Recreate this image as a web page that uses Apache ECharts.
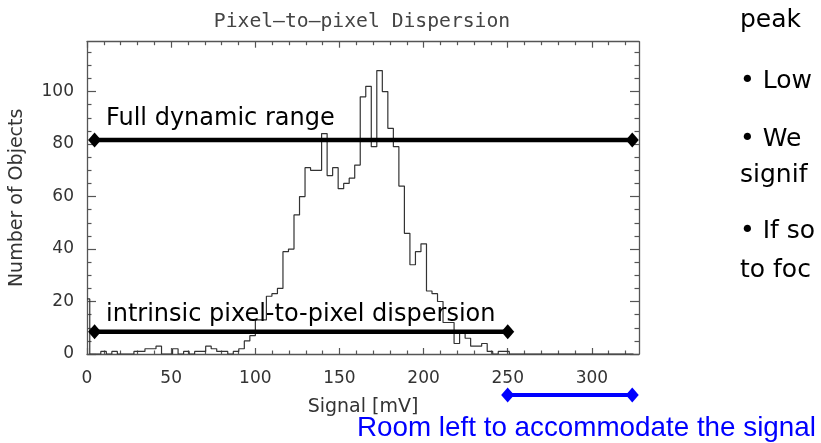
<!DOCTYPE html>
<html><head><meta charset="utf-8">
<script src="https://cdn.jsdelivr.net/npm/echarts@6/dist/echarts.min.js"></script>
<style>html,body{margin:0;padding:0;background:#fff}#c{width:821px;height:443px}</style>
</head><body><div id="c"></div>
<script>
// ---- data ----
const binWidth = 3.28; // mV per histogram bin (bin centres at i*binWidth)
const counts = [
  21,0,0,1,0,1,0,0,0,1,
  1,2,2,3,0,0,2,0,1,0,
  1,1,3,2,1,1,0,1,2,5,
  7,13,13,22,23,25,39,40,53,60,
  71,70,70,84,68,71,63,65,67,72,
  98,102,79,108,100,86,79,64,46,34,
  39,42,24,23,20,12,12,4,8,6,
  3,3,4,1,0,1,1,0,0,0,
  0,0,0,0,0,0,0,0,0,0,
  0,0,0,0,0,0,0,0,0,0
];
const xMajorTicks = [0,50,100,150,200,250,300];
const xMinorTicks = [10,20,30,40,60,70,80,90,110,120,130,140,160,170,180,190,210,220,230,240,260,270,280,290,310,320];
const yMajorTicks = [0,20,40,60,80,100];
const yMinorTicks = [5,10,15,25,30,35,45,50,55,65,70,75,85,90,95,105,110,115];
const fullRangeX = [4.5, 324];
const fullRangeY = 81.5;
const intrinsicX = [4.5, 250];
const intrinsicY = 8.5;
const roomX = [250, 324];

const xMax = 328, yMax = 119;
const AX = '#555';
const TXT = '#333';

function xAx(pos, ticks, len, line, label, extra) {
  return Object.assign({
    type:'value', gridIndex:0, position:pos, min:0, max:xMax,
    axisLine:{show:line, onZero:false, lineStyle:{color:AX, width:1.3}},
    axisTick:{show:true, inside:true, length:len, customValues:ticks, lineStyle:{color:AX, width:1.2}},
    axisLabel:{show:label, customValues:ticks, margin:16, color:TXT, fontFamily:'DejaVu Sans', fontSize:17},
    splitLine:{show:false}
  }, extra||{});
}
function yAx(pos, ticks, len, line, label, extra) {
  return Object.assign({
    type:'value', gridIndex:0, position:pos, min:0, max:yMax,
    axisLine:{show:line, onZero:false, lineStyle:{color:AX, width:1.3}},
    axisTick:{show:true, inside:true, length:len, customValues:ticks, lineStyle:{color:AX, width:1.2}},
    axisLabel:{show:label, customValues:ticks, margin:13, color:TXT, fontFamily:'DejaVu Sans', fontSize:17},
    splitLine:{show:false}
  }, extra||{});
}

const chart = echarts.init(document.getElementById('c'), null, {renderer:'canvas'});
const option = {
  animation:false,
  backgroundColor:'#fff',
  grid:[
    {left:86.7, right:182, top:41.7, bottom:89, containLabel:false},
    {left:86.7, right:182, top:385, height:20, containLabel:false}
  ],
  xAxis:[
    xAx('bottom', xMajorTicks, 6, true, true, {
      name:'Signal [mV]', nameLocation:'middle', nameGap:44, nameMoveOverlap:false,
      nameTextStyle:{color:TXT, fontFamily:'DejaVu Sans', fontSize:19}
    }),
    xAx('bottom', xMinorTicks, 3.5, false, false),
    xAx('top', xMajorTicks, 6, true, false),
    xAx('top', xMinorTicks, 3.5, false, false),
    {type:'value', gridIndex:1, min:0, max:xMax, show:false}
  ],
  yAxis:[
    yAx('left', yMajorTicks, 9, true, true, {
      name:'Number of Objects', nameLocation:'middle', nameGap:60, nameMoveOverlap:false,
      nameTextStyle:{color:TXT, fontFamily:'DejaVu Sans', fontSize:19}
    }),
    yAx('left', yMinorTicks, 4.5, false, false),
    yAx('right', yMajorTicks, 9, true, false),
    yAx('right', yMinorTicks, 4.5, false, false),
    {type:'value', gridIndex:1, min:-1, max:1, show:false}
  ],
  series:[
    {
      name:'histogram', type:'line', step:'middle', xAxisIndex:0, yAxisIndex:0,
      data: counts.map((c,i)=>[i*binWidth, c]),
      symbol:'none', lineStyle:{color:'#333', width:1.2}, z:2
    },
    {
      name:'full', type:'line', xAxisIndex:0, yAxisIndex:0,
      data: fullRangeX.map(x=>[x, fullRangeY]),
      symbol:'diamond', symbolSize:[13,15], showSymbol:true,
      itemStyle:{color:'#000'}, lineStyle:{color:'#000', width:4.5}, z:5
    },
    {
      name:'intrinsic', type:'line', xAxisIndex:0, yAxisIndex:0,
      data: intrinsicX.map(x=>[x, intrinsicY]),
      symbol:'diamond', symbolSize:[13,15], showSymbol:true,
      itemStyle:{color:'#000'}, lineStyle:{color:'#000', width:4.5}, z:5
    },
    {
      name:'room', type:'line', xAxisIndex:4, yAxisIndex:4,
      data: roomX.map(x=>[x, 0]),
      symbol:'diamond', symbolSize:[13,15], showSymbol:true,
      itemStyle:{color:'#0000ff'}, lineStyle:{color:'#0000ff', width:4}, z:5
    }
  ],
  graphic:[
    {type:'text', x:362, y:22, style:{text:'Pixel—to—pixel Dispersion', font:'19.7px "DejaVu Sans Mono"', fill:'#444', align:'center', verticalAlign:'middle'}},
    {type:'text', x:106, y:119, style:{text:'Full dynamic range', font:'24px "DejaVu Sans"', fill:'#000', verticalAlign:'middle'}, z:10},
    {type:'text', x:106, y:315, style:{text:'intrinsic pixel-to-pixel dispersion', font:'24px "DejaVu Sans"', fill:'#000', verticalAlign:'middle'}, z:10},
    {type:'text', x:740, y:20, style:{text:'peak', font:'25px "DejaVu Sans"', fill:'#000', verticalAlign:'middle'}},
    {type:'text', x:740, y:81, style:{text:'• Low', font:'25px "DejaVu Sans"', fill:'#000', verticalAlign:'middle'}},
    {type:'text', x:740, y:139, style:{text:'• We', font:'25px "DejaVu Sans"', fill:'#000', verticalAlign:'middle'}},
    {type:'text', x:740, y:175, style:{text:'signif', font:'25px "DejaVu Sans"', fill:'#000', verticalAlign:'middle'}},
    {type:'text', x:740, y:231, style:{text:'• If so', font:'25px "DejaVu Sans"', fill:'#000', verticalAlign:'middle'}},
    {type:'text', x:740, y:270, style:{text:'to foc', font:'25px "DejaVu Sans"', fill:'#000', verticalAlign:'middle'}},
    {type:'text', x:357, y:428, style:{text:'Room left to accommodate the signal', font:'27.8px "Liberation Sans"', fill:'#0000ff', verticalAlign:'middle'}}
  ]
};
chart.setOption(option);
</script>
</body></html>
